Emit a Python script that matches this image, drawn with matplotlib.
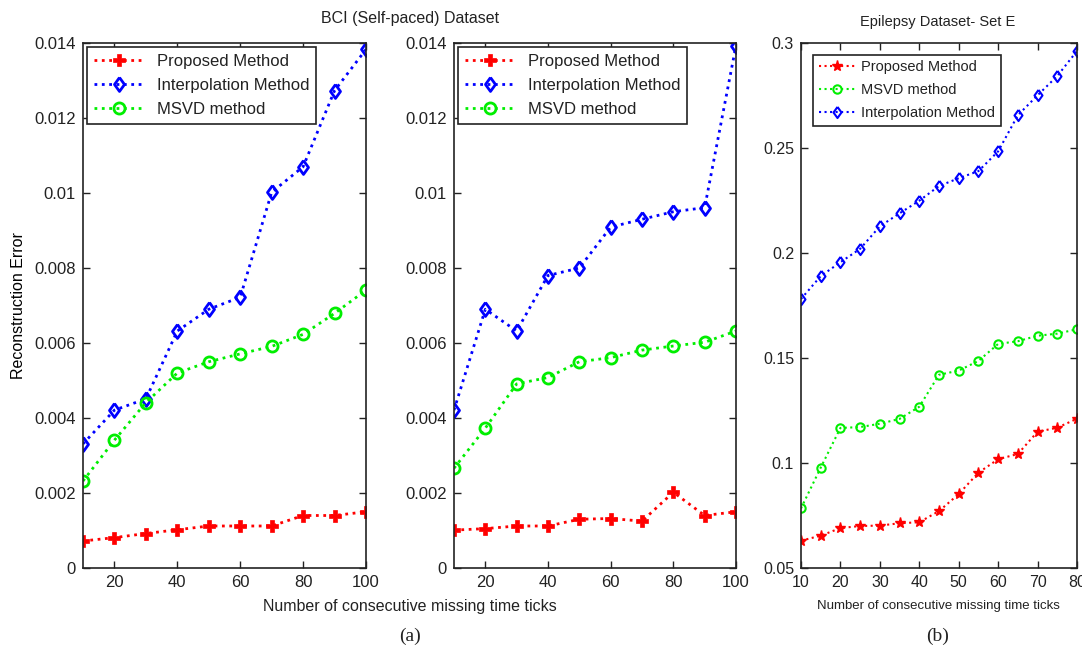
import matplotlib
matplotlib.use('Agg')
import matplotlib.pyplot as plt

plt.rcParams['font.family'] = ['Liberation Sans', 'DejaVu Sans']
plt.rcParams['text.color'] = '#222222'
plt.rcParams['xtick.color'] = '#222222'
plt.rcParams['ytick.color'] = '#222222'

# BCI (Self-paced) dataset, two panels
bci_x = [10, 20, 30, 40, 50, 60, 70, 80, 90, 100]
bci1_proposed = [0.00072, 0.00081, 0.00092, 0.00102, 0.00112, 0.00112, 0.00112, 0.00140, 0.00140, 0.00150]
bci1_interp = [0.00331, 0.00421, 0.00451, 0.00632, 0.00690, 0.00722, 0.01002, 0.01070, 0.01273, 0.01383]
bci1_msvd = [0.00232, 0.00341, 0.00441, 0.00520, 0.00550, 0.00571, 0.00591, 0.00623, 0.00679, 0.00741]

bci2_proposed = [0.00101, 0.00105, 0.00112, 0.00112, 0.00130, 0.00132, 0.00125, 0.00202, 0.00140, 0.00150]
bci2_interp = [0.00421, 0.00690, 0.00632, 0.00780, 0.00800, 0.00909, 0.00930, 0.00950, 0.00961, 0.01393]
bci2_msvd = [0.00266, 0.00373, 0.00491, 0.00508, 0.00550, 0.00561, 0.00581, 0.00592, 0.00602, 0.00632]

# Epilepsy dataset, set E
epi_x = [10, 15, 20, 25, 30, 35, 40, 45, 50, 55, 60, 65, 70, 75, 80]
epi_proposed = [0.0630, 0.0654, 0.0690, 0.0700, 0.0702, 0.0713, 0.0718, 0.0771, 0.0852, 0.0954,
                0.1018, 0.1043, 0.1149, 0.1168, 0.1211]
epi_msvd = [0.0784, 0.0978, 0.1167, 0.1171, 0.1187, 0.1210, 0.1268, 0.1420, 0.1440, 0.1486,
            0.1567, 0.1580, 0.1606, 0.1616, 0.1637]
epi_interp = [0.1781, 0.1890, 0.1956, 0.2020, 0.2127, 0.2189, 0.2249, 0.2319, 0.2356, 0.2390,
              0.2484, 0.2656, 0.2751, 0.2843, 0.2962]

RED, BLUE, GREEN = '#ff0000', '#0000ff', '#00ee00'
W, H = 1082, 652
DIAMOND = [(0, 1), (0.72, 0), (0, -1), (-0.72, 0), (0, 1)]


def px_axes(fig, left, top, right, bottom):
    return fig.add_axes([left / W, 1 - bottom / H, (right - left) / W, (bottom - top) / H])


def matlab_style(ax, fs):
    ax.tick_params(direction='in', top=True, right=True, length=5, width=1, labelsize=fs, pad=5)
    for s in ax.spines.values():
        s.set_linewidth(1.2)
        s.set_color('#222222')


fig = plt.figure(figsize=(W / 100, H / 100), dpi=100)

ax1 = px_axes(fig, 83, 43, 366, 568)
ax2 = px_axes(fig, 454, 43, 736, 568)
for ax, p, it, m in [(ax1, bci1_proposed, bci1_interp, bci1_msvd),
                     (ax2, bci2_proposed, bci2_interp, bci2_msvd)]:
    ax.plot(bci_x, p, ':', color=RED, lw=2, marker='P', ms=8, mew=0.5, label='Proposed Method')
    ax.plot(bci_x, it, ':', color=BLUE, lw=2, marker=DIAMOND, ms=10, mfc='none', mew=2,
            label='Interpolation Method')
    ax.plot(bci_x, m, ':', color=GREEN, lw=2, marker='o', ms=8, mfc='none', mew=2, label='MSVD method')
    ax.set_xlim(10, 100)
    ax.set_ylim(0, 0.014)
    ax.set_xticks([20, 40, 60, 80, 100])
    ax.set_yticks([0, 0.002, 0.004, 0.006, 0.008, 0.01, 0.012, 0.014])
    ax.set_yticklabels(['0', '0.002', '0.004', '0.006', '0.008', '0.01', '0.012', '0.014'])
    matlab_style(ax, 12)
    leg = ax.legend(loc='upper left', fontsize=12, handlelength=3, fancybox=False, framealpha=1,
                    borderaxespad=0.25, borderpad=0.4, labelspacing=0.55, handletextpad=0.8)
    leg.get_frame().set_edgecolor('#222222')
    leg.get_frame().set_linewidth(1.2)

ax1.set_ylabel('Reconstruction Error', fontsize=11.5, labelpad=6)
fig.text(410 / W, 1 - 18 / H, 'BCI (Self-paced) Dataset', ha='center', va='center', fontsize=11.5)
fig.text(410 / W, 1 - 607 / H, 'Number of consecutive missing time ticks', ha='center', va='center',
         fontsize=11.5)
fig.text(410 / W, 1 - 636 / H, '(a)', ha='center', va='center', fontsize=14, family='Liberation Serif')

ax3 = px_axes(fig, 801, 43, 1077, 568)
ax3.plot(epi_x, epi_proposed, ':', color=RED, lw=1.5, marker='*', ms=8, mew=1, label='Proposed Method')
ax3.plot(epi_x, epi_msvd, ':', color=GREEN, lw=1.5, marker='o', ms=6, mfc='none', mew=1.5,
         label='MSVD method')
ax3.plot(epi_x, epi_interp, ':', color=BLUE, lw=1.5, marker=DIAMOND, ms=8, mfc='none', mew=1.5,
         label='Interpolation Method')
ax3.set_xlim(10, 80)
ax3.set_ylim(0.05, 0.3)
ax3.set_xticks([10, 20, 30, 40, 50, 60, 70, 80])
ax3.set_yticks([0.05, 0.1, 0.15, 0.2, 0.25, 0.3])
ax3.set_yticklabels(['0.05', '0.1', '0.15', '0.2', '0.25', '0.3'])
matlab_style(ax3, 11.5)
leg3 = ax3.legend(loc='upper left', fontsize=10.5, handlelength=2.5, fancybox=False, framealpha=1,
                  borderaxespad=0.8, borderpad=0.4, labelspacing=0.6, handletextpad=0.4)
leg3.get_frame().set_edgecolor('#222222')
leg3.get_frame().set_linewidth(1.2)
fig.text(938 / W, 1 - 22 / H, 'Epilepsy Dataset- Set E', ha='center', va='center', fontsize=10.5)
fig.text(938 / W, 1 - 606 / H, 'Number of consecutive missing time ticks', ha='center', va='center',
         fontsize=9.5)
fig.text(938 / W, 1 - 636 / H, '(b)', ha='center', va='center', fontsize=14, family='Liberation Serif')

fig.savefig('out.png', dpi=100)
